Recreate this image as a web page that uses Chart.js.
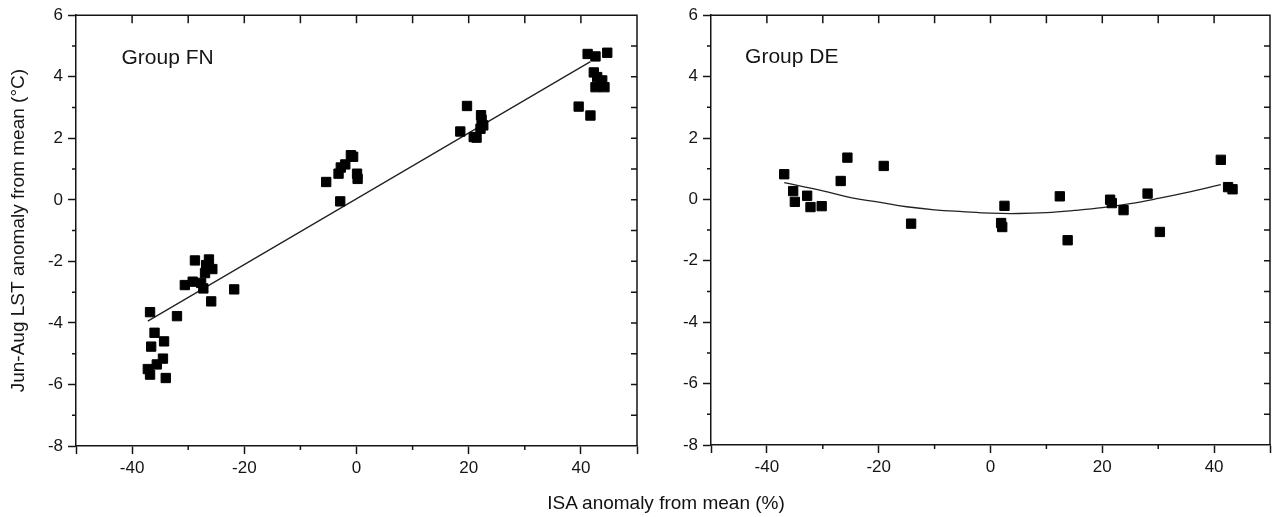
<!DOCTYPE html>
<html>
<head>
<meta charset="utf-8">
<script src="https://cdn.jsdelivr.net/npm/chart.js@4.4.1/dist/chart.umd.min.js"></script>
<style>
  body { margin: 0; background: #fff; width: 1274px; height: 517px; overflow: hidden; position: relative; font-family: 'Liberation Sans', Arial, sans-serif; }
  #fnWrap { position: absolute; left: 0; top: 0; width: 650px; height: 517px; }
  #deWrap { position: absolute; left: 650px; top: 0; width: 624px; height: 517px; }
  #xTitle { position: absolute; left: 466px; width: 400px; top: 492px; text-align: center; font-size: 19px; color: #111; }
</style>
</head>
<body>
<div id="fnWrap"><canvas id="fnChart" width="650" height="517"></canvas></div>
<div id="deWrap"><canvas id="deChart" width="624" height="517"></canvas></div>
<div id="xTitle">ISA anomaly from mean (%)</div>
<script>
// Group FN: ISA anomaly (%) vs Jun-Aug LST anomaly (°C)
const fnX = [-36.8, -32.0, -36.0, -34.3, -36.6, -34.5, -35.6, -37.2, -36.8, -34.0,
             -28.8, -26.3, -25.7, -27.0, -30.6, -29.2, -27.7, -27.3, -25.9, -21.8, -26.8,
             -5.4, -3.2, -2.8, -2.0, -1.0, -0.6, 0.1, 0.2, -2.9,
             19.7, 18.5, 20.9, 21.4, 22.2, 22.3, 22.6, 22.1,
             41.2, 42.6, 44.7, 42.3, 42.9, 43.8, 44.2, 42.6, 39.6, 41.7];
const fnY = [-3.65, -3.78, -4.32, -4.60, -4.77, -5.16, -5.35, -5.50, -5.68, -5.79,
             -1.97, -1.94, -2.25, -2.38, -2.77, -2.66, -2.70, -2.88, -3.30, -2.91, -2.12,
             0.58, 0.85, 1.05, 1.15, 1.45, 1.40, 0.85, 0.68, -0.05,
             3.05, 2.22, 2.04, 2.02, 2.75, 2.60, 2.42, 2.31,
             4.74, 4.66, 4.78, 4.14, 3.99, 3.88, 3.66, 3.66, 3.03, 2.74];
// linear fit line, read at its two ends
const fnFitX = [-37.2, 41.7];
const fnFitY = [-3.94, 4.49];

// Group DE
const deX = [-36.9, -35.3, -35.0, -32.8, -32.2, -30.2, -26.8, -25.6, -19.1, -14.2,
             2.5, 1.9, 2.1, 12.4, 13.8, 21.4, 21.7, 23.8, 28.1, 30.3, 41.2, 42.5, 43.3];
const deY = [0.82, 0.27, -0.08, 0.12, -0.25, -0.22, 0.60, 1.36, 1.09, -0.79,
             -0.21, -0.77, -0.90, 0.10, -1.33, -0.01, -0.12, -0.35, 0.19, -1.06, 1.29, 0.40, 0.33];
// quadratic fit curve
const deFitX = [-36.9, -30, -25, -20, -15, -10, -5, 0, 5, 10, 15, 20, 25, 30, 35, 41.2];
const deFitY = [0.55, 0.28, 0.06, -0.09, -0.24, -0.34, -0.40, -0.45, -0.46, -0.43, -0.36, -0.27, -0.14, 0.03, 0.22, 0.48];

const xLabels = [-40, -20, 0, 20, 40];
const yLabels = [-8, -6, -4, -2, 0, 2, 4, 6];

const ink = '#151515';
const tickFont = { family: "'Liberation Sans', Arial, sans-serif", size: 17 };

function pts(xs, ys) {
    return xs.map((v, i) => ({ x: v, y: ys[i] }));
}

// box top/right edges, inward ticks, short minor ticks and the group label
const framePlugin = {
    id: 'frame',
    afterDraw(chart, args, opts) {
        const { ctx, chartArea: a, scales: { x, y } } = chart;
        ctx.save();
        ctx.strokeStyle = ink;
        ctx.lineWidth = 1.5;
        ctx.beginPath();
        ctx.moveTo(a.left, a.top);
        ctx.lineTo(a.right, a.top);
        ctx.lineTo(a.right, a.bottom);
        x.ticks.forEach(t => {
            if (t.value <= x.min || t.value >= x.max) return;
            const px = x.getPixelForValue(t.value);
            ctx.moveTo(px, a.top);
            ctx.lineTo(px, a.top + 8);
            if (!xLabels.includes(t.value)) {
                ctx.moveTo(px, a.bottom);
                ctx.lineTo(px, a.bottom + 4);
            }
        });
        y.ticks.forEach(t => {
            if (t.value <= y.min || t.value >= y.max) return;
            const py = y.getPixelForValue(t.value);
            ctx.moveTo(a.right, py);
            ctx.lineTo(a.right - 6, py);
            if (!yLabels.includes(t.value)) {
                ctx.moveTo(a.left, py);
                ctx.lineTo(a.left - 4, py);
            }
        });
        ctx.stroke();

        ctx.fillStyle = ink;
        ctx.font = "21px 'Liberation Sans', Arial, sans-serif";
        ctx.textBaseline = 'middle';
        ctx.textAlign = 'left';
        ctx.fillText(opts.label, x.getPixelForValue(opts.at[0]), y.getPixelForValue(opts.at[1]));
        ctx.restore();
    }
};

function makeChart(id, sx, sy, fx, fy, cfg) {
    return new Chart(document.getElementById(id), {
        type: 'scatter',
        data: {
            datasets: [{
                data: pts(sx, sy),
                pointStyle: 'rect',
                pointRadius: 6.6,
                backgroundColor: '#000',
                borderColor: '#000',
                borderWidth: 1
            }, {
                type: 'line',
                data: pts(fx, fy),
                showLine: true,
                borderColor: '#222',
                borderWidth: 1.3,
                pointRadius: 0,
                tension: 0.4,
                fill: false
            }]
        },
        options: {
            responsive: false,
            animation: false,
            devicePixelRatio: 1,
            layout: { autoPadding: false, padding: { top: 15, right: cfg.padRight, left: 0, bottom: 0 } },
            plugins: {
                legend: { display: false },
                tooltip: { enabled: false },
                frame: { label: cfg.label, at: cfg.labelAt }
            },
            scales: {
                x: {
                    type: 'linear',
                    min: -50,
                    max: 50,
                    afterFit(scale) { scale.height = cfg.xHeight; },
                    border: { display: true, color: ink, width: 1.5 },
                    grid: {
                        drawOnChartArea: false,
                        drawTicks: true,
                        tickLength: 8,
                        tickWidth: 1.5,
                        tickColor: c => (c.tick && (xLabels.includes(c.tick.value) || Math.abs(c.tick.value) === 50)) ? ink : 'rgba(0,0,0,0)'
                    },
                    ticks: {
                        stepSize: 10,
                        autoSkip: false,
                        maxRotation: 0,
                        padding: 4,
                        color: ink,
                        font: tickFont,
                        callback: v => xLabels.includes(v) ? String(v) : ''
                    }
                },
                y: {
                    type: 'linear',
                    min: -8,
                    max: 6,
                    afterFit(scale) { scale.width = cfg.yWidth; },
                    border: { display: true, color: ink, width: 1.5 },
                    grid: {
                        drawOnChartArea: false,
                        drawTicks: true,
                        tickLength: 8,
                        tickWidth: 1.5,
                        tickColor: c => (c.tick && yLabels.includes(c.tick.value)) ? ink : 'rgba(0,0,0,0)'
                    },
                    title: {
                        display: cfg.yTitle,
                        text: 'Jun-Aug LST anomaly from mean (°C)',
                        color: ink,
                        font: { family: "'Liberation Sans', Arial, sans-serif", size: 19 },
                        padding: { top: 7, bottom: 0 }
                    },
                    ticks: {
                        stepSize: 1,
                        autoSkip: false,
                        padding: 5,
                        color: ink,
                        font: tickFont,
                        callback: v => yLabels.includes(v) ? String(v) : ''
                    }
                }
            }
        },
        plugins: [framePlugin]
    });
}

makeChart('fnChart', fnX, fnY, fnFitX, fnFitY,
    { label: 'Group FN', labelAt: [-41.9, 4.6], padRight: 13, xHeight: 71, yWidth: 76, yTitle: true });
makeChart('deChart', deX, deY, deFitX, deFitY,
    { label: 'Group DE', labelAt: [-43.9, 4.62], padRight: 2, xHeight: 72, yWidth: 61, yTitle: false });
</script>
</body>
</html>
